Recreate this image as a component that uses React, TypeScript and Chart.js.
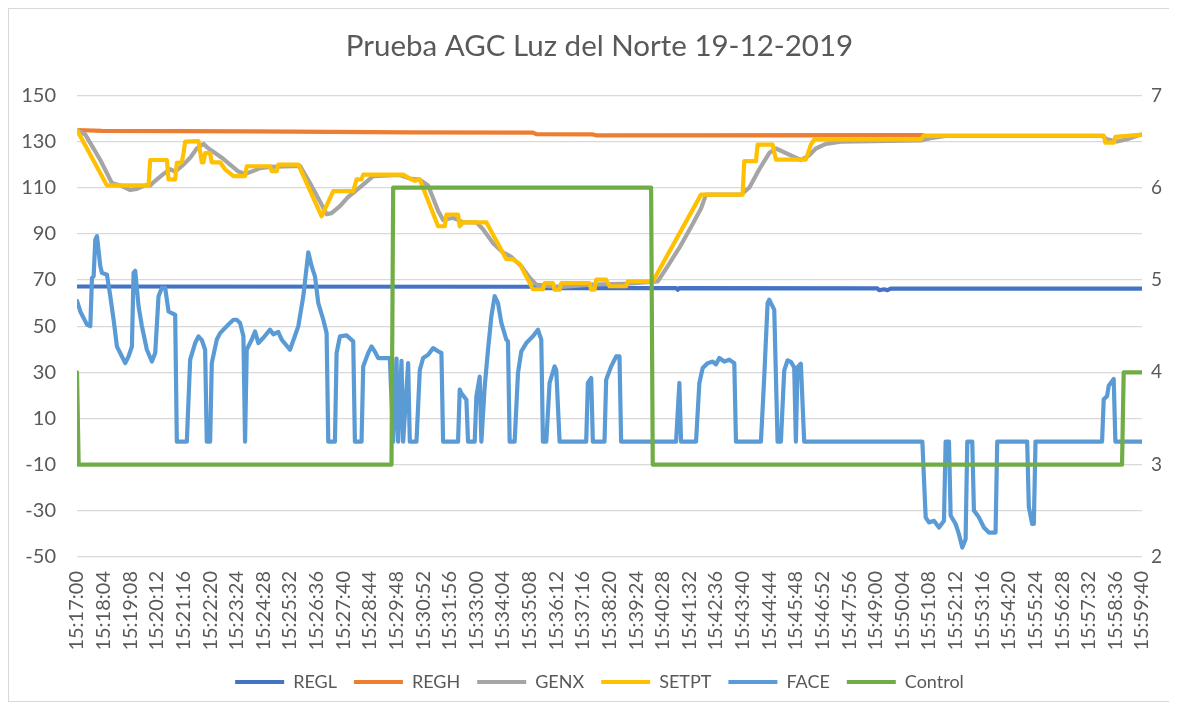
import React, { useEffect, useRef } from "react";
import { Chart, registerables } from "chart.js";

Chart.register(...registerables);

const TITLE = "Prueba AGC Luz del Norte 19-12-2019";

// x tick labels (one every 64 s, starting 15:17:00)
const TIME_LABELS = [
  "15:17:00", "15:18:04", "15:19:08", "15:20:12", "15:21:16", "15:22:20", "15:23:24",
  "15:24:28", "15:25:32", "15:26:36", "15:27:40", "15:28:44", "15:29:48", "15:30:52",
  "15:31:56", "15:33:00", "15:34:04", "15:35:08", "15:36:12", "15:37:16", "15:38:20",
  "15:39:24", "15:40:28", "15:41:32", "15:42:36", "15:43:40", "15:44:44", "15:45:48",
  "15:46:52", "15:47:56", "15:49:00", "15:50:04", "15:51:08", "15:52:12", "15:53:16",
  "15:54:20", "15:55:24", "15:56:28", "15:57:32", "15:58:36", "15:59:40",
];
const TICK_STEP_S = 64;
const SPAN_S = 2560;

// series: [seconds since 15:17:00, value]
const REGL: [number, number][] = [
  [0, 67.2], [1096, 67.1], [1104, 66.5], [1440, 66.5], [1444, 65.8], [1448, 66.5],
  [1924, 66.4], [1928, 65.6], [1940, 66.0], [1948, 65.6], [1956, 66.3], [2560, 66.3],
];

const REGH: [number, number][] = [
  [0, 135], [60, 134.6], [420, 134.4], [800, 134.0], [1096, 133.9], [1104, 133.2],
  [1240, 133.1], [1248, 132.7], [2030, 132.8], [2036, 132.6],
];

const GENX: [number, number][] = [
  [0, 135], [20, 133], [56, 122], [84, 112], [104, 111], [128, 109], [144, 109.5],
  [164, 111], [176, 111], [188, 113], [208, 116], [224, 118], [236, 117], [256, 120],
  [272, 123], [288, 127], [304, 129], [316, 127], [332, 125], [348, 123], [368, 120],
  [388, 117], [404, 116], [420, 117], [440, 118.5], [464, 119], [536, 119.5], [560, 112],
  [584, 104], [600, 98.5], [612, 99], [632, 102], [652, 106], [672, 109], [692, 112],
  [712, 115], [776, 115.5], [800, 114], [824, 113.5], [844, 111], [868, 100], [880, 96],
  [904, 97], [928, 95], [960, 95], [976, 92], [1000, 86], [1024, 82], [1044, 80],
  [1068, 76], [1088, 71], [1104, 68], [1128, 67.5], [1164, 67], [1236, 68], [1332, 68.5],
  [1396, 69.4], [1420, 76], [1448, 84], [1476, 93], [1500, 101], [1512, 107],
  [1596, 107], [1616, 110], [1640, 118], [1664, 125], [1680, 127], [1716, 124],
  [1740, 122], [1760, 124], [1776, 127], [1800, 129], [1836, 130], [2028, 130.5],
  [2052, 131.5], [2088, 132.4], [2464, 132.4], [2476, 131], [2500, 130], [2524, 131],
  [2548, 132.5], [2560, 133],
];

const SETPT: [number, number][] = [
  [0, 135], [72, 111], [172, 111], [176, 122], [216, 122], [220, 113.6], [236, 113.6],
  [240, 120.8], [252, 121], [256, 125], [260, 130], [292, 130.2], [300, 121], [304, 121],
  [308, 125], [320, 125], [324, 121], [344, 121], [356, 118], [376, 115], [404, 115],
  [408, 119.3], [464, 119.3], [468, 117.2], [480, 117.2], [484, 120], [532, 120],
  [588, 97.6], [616, 108.5], [664, 108.5], [672, 113.6], [684, 113.6], [688, 115.7],
  [784, 115.7], [800, 114], [812, 113], [824, 113.6], [868, 93.3], [884, 93.3],
  [888, 98.4], [916, 98.4], [920, 93.3], [928, 95], [984, 95], [1032, 79], [1048, 79],
  [1064, 77], [1096, 66], [1120, 66], [1124, 68.7], [1144, 68.7], [1148, 65.8],
  [1160, 65.8], [1164, 68.7], [1232, 68.7], [1236, 65.8], [1244, 65.8], [1248, 70.2],
  [1272, 70.2], [1280, 67.3], [1320, 67.3], [1324, 69.4], [1384, 69.4], [1500, 107],
  [1600, 107], [1604, 121.5], [1632, 121.5], [1636, 128.7], [1672, 128.7], [1680, 122.2],
  [1752, 122.2], [1764, 128.7], [1772, 130.9], [2028, 130.9], [2036, 132.6],
  [2468, 132.6], [2472, 129.5], [2492, 129.5], [2496, 132], [2560, 133],
];

const FACE: [number, number][] = [
  [0, 61], [8, 56.4], [24, 50.7], [32, 50], [36, 70.9], [40, 71.6], [44, 87.5], [48, 89],
  [56, 76], [60, 73.1], [72, 72.3], [80, 63], [88, 52.8], [96, 41.2], [108, 36.9],
  [116, 34], [124, 36.9], [132, 41.2], [136, 73.1], [140, 74], [148, 58.6], [156, 50],
  [168, 39.8], [180, 34.7], [188, 38.4], [196, 63], [204, 66.6], [212, 66.6], [220, 56.4],
  [228, 55.6], [236, 55], [240, 0], [264, 0], [272, 35.5], [284, 42.7], [292, 45.6],
  [300, 44], [308, 39.8], [312, 0], [320, 0], [324, 34], [336, 44.2], [344, 47],
  [352, 48.5], [364, 50.7], [376, 52.8], [384, 52.8], [392, 51.4], [400, 45.6], [404, 0],
  [408, 39.8], [420, 44.2], [428, 47.7], [436, 42.7], [448, 45], [464, 48.5], [472, 46.5],
  [484, 47.5], [492, 44.2], [512, 39.8], [532, 50], [544, 63], [556, 82], [564, 76],
  [572, 71.6], [580, 60], [592, 52.8], [600, 47], [604, 0], [620, 0], [624, 38.4],
  [632, 45.6], [648, 46], [664, 43.4], [668, 0], [684, 0], [688, 32.6], [700, 38.4],
  [708, 41.2], [716, 39], [724, 36.2], [752, 36.2], [760, 0], [768, 36], [772, 0],
  [780, 35], [784, 0], [796, 34], [800, 0], [816, 0], [824, 31], [832, 36.2],
  [844, 37.6], [856, 40.5], [868, 39.1], [876, 38.4], [880, 0], [916, 0], [920, 22.5],
  [924, 21], [936, 18.1], [940, 0], [956, 0], [960, 19.6], [968, 28.2], [972, 0],
  [980, 23.9], [988, 39.8], [996, 54.2], [1004, 63], [1012, 60], [1020, 51.4],
  [1032, 44.2], [1036, 43.4], [1040, 0], [1052, 0], [1060, 29.7], [1068, 39.1],
  [1080, 42.7], [1096, 45.6], [1108, 48.5], [1116, 44.2], [1120, 0], [1128, 0],
  [1136, 25.4], [1148, 32.6], [1152, 31], [1160, 0], [1224, 0], [1228, 25.4],
  [1236, 27.6], [1240, 0], [1268, 0], [1272, 26.8], [1284, 32.6], [1296, 36.9],
  [1304, 36.9], [1308, 0], [1440, 0], [1448, 25.4], [1452, 0], [1488, 0], [1496, 25.4],
  [1504, 31.9], [1516, 34], [1528, 34.7], [1536, 33.5], [1544, 36.2], [1556, 34.7],
  [1568, 35.5], [1580, 34], [1584, 0], [1644, 0], [1652, 28.2], [1660, 60], [1664, 61.5],
  [1676, 57.2], [1684, 0], [1692, 0], [1700, 30.8], [1708, 35.2], [1716, 34.5],
  [1724, 32.2], [1728, 0], [1732, 32.2], [1740, 33.7], [1748, 0], [2032, 0],
  [2040, -32.8], [2048, -35], [2060, -34.3], [2072, -37.2], [2084, -34.3], [2088, 0],
  [2096, 0], [2100, -32], [2112, -35.7], [2120, -40.1], [2128, -45.9], [2136, -42.3],
  [2140, 0], [2152, 0], [2156, -29.9], [2168, -32.8], [2180, -37.2], [2192, -39.4],
  [2208, -39.4], [2212, 0], [2284, 0], [2288, -28.4], [2296, -35.7], [2300, -35.7],
  [2304, 0], [2464, 0], [2468, 18.3], [2476, 19.7], [2480, 24.2], [2492, 27.1],
  [2496, 0], [2560, 0],
];

// right axis
const CONTROL: [number, number][] = [
  [0, 4], [4, 3], [756, 3], [760, 6], [1380, 6], [1384, 3], [2512, 3], [2516, 4], [2560, 4],
];

const LEFT_AXIS = { min: -50, max: 150, step: 20 };
const RIGHT_AXIS = { min: 2, max: 7, step: 1 };

const toXY = (pts: [number, number][]) => pts.map(([x, y]) => ({ x, y }));

const TEXT = "#595959";
const GRID = "#d9d9d9";
const FONT = "Lato";

export default function App() {
  const ref = useRef<HTMLCanvasElement>(null);

  useEffect(() => {
    document.documentElement.style.overflow = "hidden";
    document.body.style.overflow = "hidden";

    const mk = (label: string, pts: [number, number][], color: string, order: number, axis = "y") => ({
      label,
      data: toXY(pts),
      borderColor: color,
      backgroundColor: color,
      yAxisID: axis,
      order,
      borderWidth: 4.2,
      pointRadius: 0,
      pointHoverRadius: 0,
      tension: 0,
      borderJoinStyle: "round" as const,
      borderCapStyle: "round" as const,
    });

    const chart = new Chart(ref.current!, {
      type: "line",
      data: {
        datasets: [
          mk("REGL", REGL, "#4472C4", 6),
          mk("REGH", REGH, "#ED7D31", 5),
          mk("GENX", GENX, "#A5A5A5", 4),
          mk("SETPT", SETPT, "#FFC000", 3),
          mk("FACE", FACE, "#5B9BD5", 2),
          mk("Control", CONTROL, "#70AD47", 1, "y1"),
        ],
      },
      options: {
        animation: false,
        responsive: true,
        maintainAspectRatio: false,
        layout: { padding: { left: 8, right: -13, top: 0, bottom: 0 } },
        plugins: {
          title: {
            display: true,
            text: TITLE,
            color: TEXT,
            font: { family: FONT, size: 29.5, weight: "normal" },
            padding: { top: 20, bottom: 31 },
          },
          legend: {
            position: "bottom",
            labels: {
              usePointStyle: true,
              pointStyle: "line",
              pointStyleWidth: 49,
              color: TEXT,
              font: { family: FONT, size: 18 },
              padding: 17,
              sort: (a: any, b: any) => a.datasetIndex - b.datasetIndex,
            },
          },
          tooltip: { enabled: false },
        },
        scales: {
          x: {
            type: "linear",
            min: 0,
            max: SPAN_S,
            ticks: {
              stepSize: TICK_STEP_S,
              autoSkip: false,
              maxRotation: 90,
              minRotation: 90,
              padding: 0,
              color: TEXT,
              font: { family: FONT, size: 20 },
              callback: (v: any) => TIME_LABELS[Math.round(Number(v) / TICK_STEP_S)] ?? "",
            },
            grid: { display: false, drawTicks: true, tickLength: 14 },
            border: { display: false },
            afterFit: (s: any) => {
              s.height = 99;
            },
          },
          y: {
            position: "left",
            min: LEFT_AXIS.min,
            max: LEFT_AXIS.max,
            ticks: {
              stepSize: LEFT_AXIS.step,
              padding: 21,
              color: TEXT,
              font: { family: FONT, size: 20 },
            },
            grid: { color: GRID, lineWidth: 1.3, drawTicks: false },
            border: { display: false },
            afterFit: (s: any) => {
              s.width = 60;
            },
          },
          y1: {
            position: "right",
            min: RIGHT_AXIS.min,
            max: RIGHT_AXIS.max,
            ticks: {
              stepSize: RIGHT_AXIS.step,
              padding: 9,
              color: TEXT,
              font: { family: FONT, size: 19 },
            },
            grid: { display: false, drawTicks: false },
            border: { display: false },
            afterFit: (s: any) => {
              s.width = 40;
            },
          },
        },
      },
    } as any);

    return () => chart.destroy();
  }, []);

  return (
    <div
      style={{
        width: 1161,
        height: 694,
        borderTop: "1px solid #d9d9d9",
        borderLeft: "1px solid #d9d9d9",
        borderBottom: "1px solid #d9d9d9",
        boxSizing: "border-box",
        position: "relative",
        background: "#fff",
      }}
    >
      <canvas ref={ref} />
    </div>
  );
}
